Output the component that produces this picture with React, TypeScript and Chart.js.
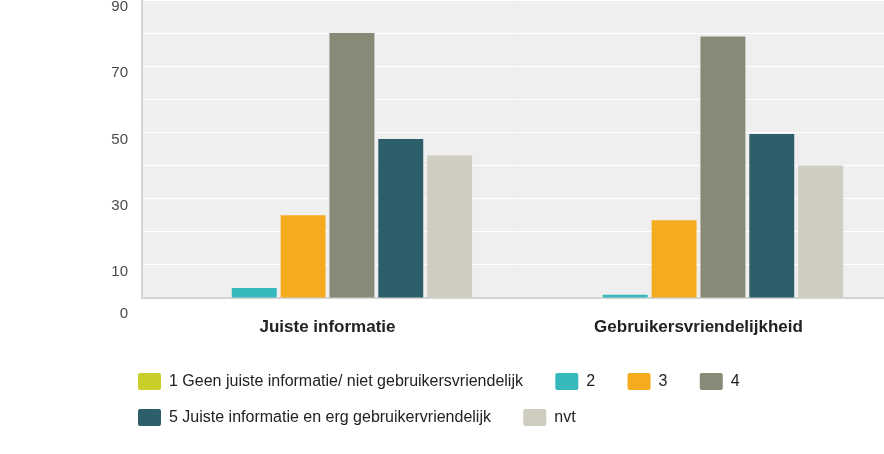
import React, { useEffect, useRef } from "react";
import { Chart, registerables } from "chart.js";

Chart.register(...registerables);

const categories = ["Juiste informatie", "Gebruikersvriendelijkheid"];
const seriesLabels = [
  "1 Geen juiste informatie/ niet gebruikersvriendelijk",
  "2",
  "3",
  "4",
  "5 Juiste informatie en erg gebruikervriendelijk",
  "nvt",
];
const series1 = [0, 0];
const series2 = [3, 1];
const series3 = [25, 23.5];
const series4 = [80, 79];
const series5 = [48, 49.5];
const seriesNvt = [43, 40];
const seriesColors = ["#c9cf2a", "#36b9bd", "#f4ac1e", "#878a77", "#2d5f6b", "#cfcdbf"];
const yTickLabels = [0, 10, 30, 50, 70, 90];

const FONT = "'Liberation Sans', Arial, Helvetica, sans-serif";

const plotBg = {
  id: "plotBg",
  beforeDraw(chart: any) {
    const { ctx, chartArea } = chart;
    if (!chartArea) return;
    ctx.save();
    ctx.fillStyle = "#efefef";
    ctx.fillRect(chartArea.left, chartArea.top, chartArea.right - chartArea.left, chartArea.bottom - chartArea.top);
    ctx.restore();
  },
};

const legendShift = {
  id: "legendShift",
  afterLayout(chart: any) {
    if (chart.legend) {
      chart.legend.left += 40;
    }
  },
};

export default function App() {
  const ref = useRef<HTMLCanvasElement | null>(null);
  useEffect(() => {
    if (!ref.current) return;
    const data = [series1, series2, series3, series4, series5, seriesNvt];
    const chart = new Chart(ref.current, {
      type: "bar",
      data: {
        labels: categories,
        datasets: data.map((d, i) => ({
          label: seriesLabels[i],
          data: d,
          backgroundColor: seriesColors[i],
          borderWidth: 0,
          barPercentage: 0.92,
          categoryPercentage: 0.79,
        })),
      },
      options: {
        animation: false,
        responsive: true,
        maintainAspectRatio: false,
        layout: { padding: { left: 79, right: 0, top: 0, bottom: 0 } },
        plugins: {
          tooltip: { enabled: false },
          legend: {
            position: "bottom",
            align: "start",
            labels: {
              boxWidth: 23,
              boxHeight: 17,
              padding: 19,
              useBorderRadius: true,
              borderRadius: 2,
              color: "#222",
              font: { family: FONT, size: 16 },
              generateLabels: (c: any) =>
                Chart.defaults.plugins.legend.labels.generateLabels(c).map((l: any) => ({
                  ...l,
                  text: l.text + "   ",
                  lineWidth: 0,
                })),
            },
          },
        },
        scales: {
          x: {
            grid: { display: false, drawTicks: false },
            border: { display: true, color: "#d4d4d4", width: 2 },
            ticks: {
              padding: 19,
              color: "#222",
              font: { family: FONT, size: 17, weight: "bold" },
            },
            afterFit: (s: any) => {
              s.height = 56;
            },
          },
          y: {
            min: 0,
            max: 90,
            grid: {
              drawTicks: false,
              color: (c: any) => (c.tick && c.tick.value === 0 ? "#d4d4d4" : "#ffffff"),
              lineWidth: 1,
            },
            border: { display: true, color: "#d4d4d4", width: 2 },
            ticks: {
              stepSize: 10,
              autoSkip: false,
              padding: 14,
              labelOffset: 7,
              color: "#4a4a4a",
              font: { family: FONT, size: 15 },
              callback: (v: any) => {
                const n = Number(v);
                if (!yTickLabels.includes(n)) return "";
                return n === 0 ? ["", "0"] : String(n);
              },
            },
            afterFit: (s: any) => {
              s.width = 63;
            },
          },
        },
      },
      plugins: [plotBg, legendShift],
    });
    return () => chart.destroy();
  }, []);
  return (
    <div style={{ position: "absolute", top: -23, left: 0, width: 884, height: 459 }}>
      <canvas ref={ref} />
    </div>
  );
}
